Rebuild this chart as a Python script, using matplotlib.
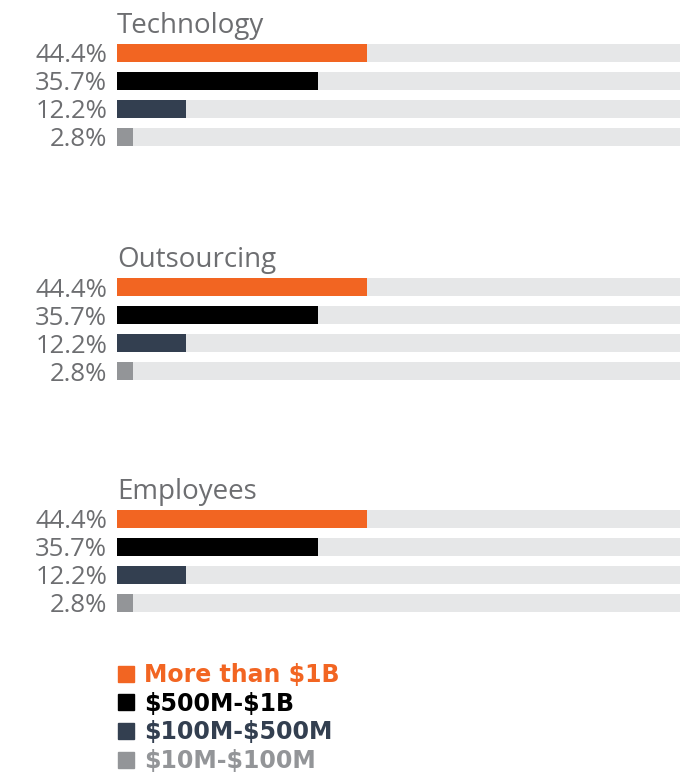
import matplotlib
matplotlib.use("Agg")
import matplotlib.pyplot as plt
from matplotlib.lines import Line2D

plt.rcParams["text.parse_math"] = False

groups = ["Technology", "Outsourcing", "Employees"]
series = ["More than $1B", "$500M-$1B", "$100M-$500M", "$10M-$100M"]
values = {
    "Technology": [44.4, 35.7, 12.2, 2.8],
    "Outsourcing": [44.4, 35.7, 12.2, 2.8],
    "Employees": [44.4, 35.7, 12.2, 2.8],
}
colors = ["#F26522", "#000000", "#333F50", "#939598"]
track_color = "#E6E7E8"
label_color = "#6D6E71"

W, H = 693, 777
dpi = 100
fig = plt.figure(figsize=(W / dpi, H / dpi), dpi=dpi)

x0, x1 = 117, 680
row = 28
group_tops = [39, 273, 505]

for g, top in zip(groups, group_tops):
    h = row * 4
    ax = fig.add_axes([x0 / W, 1 - (top + h) / H, (x1 - x0) / W, h / H])
    ys = list(range(len(series)))
    ax.barh(ys, [100] * len(ys), height=0.64, color=track_color, linewidth=0)
    ax.barh(ys, values[g], height=0.64, color=colors, linewidth=0)
    ax.set_xlim(0, 100)
    ax.set_ylim(3.5, -0.5)
    ax.set_yticks(ys)
    ax.set_yticklabels([f"{v}%" for v in values[g]], fontsize=18.5,
                       color=label_color, family="Open Sans")
    ax.tick_params(axis="y", length=0, pad=7)
    ax.set_xticks([])
    for s in ax.spines.values():
        s.set_visible(False)
    fig.text(x0 / W, 1 - (top - 6) / H, g, fontsize=20, color=label_color,
             family="Open Sans", ha="left", va="baseline")

handles = [Line2D([], [], marker="s", linestyle="none", markersize=12.2,
                  markerfacecolor=c, markeredgecolor=c) for c in colors]
leg = fig.legend(handles, series, loc="upper left",
                 bbox_to_anchor=(117 / W, 1 - 663 / H), frameon=False,
                 prop={"family": "DejaVu Sans", "weight": "bold", "size": 17},
                 labelcolor="markerfacecolor", handlelength=0.72,
                 handletextpad=0.42, labelspacing=0.2, borderpad=0,
                 borderaxespad=0)

fig.savefig("out.png", dpi=dpi)
